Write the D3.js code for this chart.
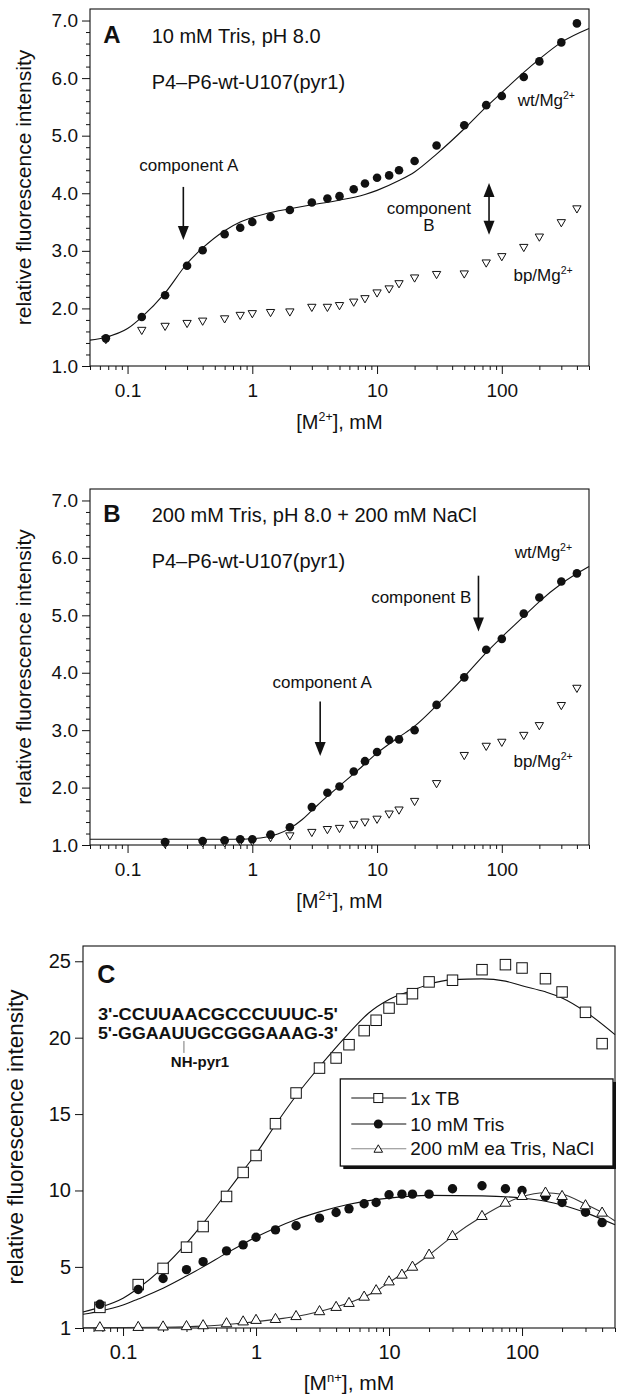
<!DOCTYPE html>
<html><head><meta charset="utf-8">
<script src="https://cdn.jsdelivr.net/npm/d3@7"></script>
<style>
body{margin:0;background:#fff}
svg{display:block}
text{font-family:"Liberation Sans",Arial,Helvetica,sans-serif;fill:#111}
</style>
</head><body>
<svg id="chart" width="621" height="1397"></svg>
<script>
// ---------------- DATA ----------------
// Panel A : 10 mM Tris
const concA = [0.067,0.13,0.2,0.3,0.4,0.6,0.8,1,1.4,2,3,4,5,6.5,8,10,12.5,15,20,30,50,75,100,150,200,300,400];
const wtA   = [1.48,1.85,2.23,2.74,3.01,3.29,3.40,3.50,3.59,3.71,3.84,3.91,3.95,4.07,4.17,4.27,4.31,4.40,4.56,4.83,5.18,5.53,5.69,6.02,6.29,6.62,6.95];
const bpA   = [1.47,1.63,1.70,1.75,1.79,1.83,1.89,1.92,1.94,1.95,2.03,2.03,2.06,2.12,2.18,2.28,2.35,2.44,2.54,2.60,2.61,2.80,2.91,3.07,3.25,3.50,3.74];
const fitAx = [0.05,0.067,0.1,0.13,0.2,0.3,0.4,0.6,0.8,1,1.5,2,3,5,8,10,15,20,30,50,75,100,150,200,300,500];
const fitAy = [1.45,1.50,1.65,1.85,2.27,2.78,3.05,3.35,3.50,3.58,3.68,3.73,3.80,3.88,3.98,4.05,4.22,4.37,4.68,5.12,5.50,5.75,6.10,6.33,6.62,6.86];

// Panel B : 200 mM Tris + 200 mM NaCl
const concB = [0.2,0.4,0.6,0.8,1,1.4,2,3,4,5,6.5,8,10,12.5,15,20,30,50,75,100,150,200,300,400];
const wtB   = [1.05,1.07,1.08,1.10,1.10,1.18,1.31,1.66,1.91,2.02,2.28,2.46,2.62,2.83,2.84,3.00,3.44,3.92,4.40,4.59,5.03,5.31,5.59,5.73];
const bpB   = [1.03,1.05,1.05,1.07,1.07,1.14,1.17,1.23,1.28,1.30,1.37,1.41,1.46,1.55,1.62,1.77,2.08,2.57,2.73,2.80,2.92,3.09,3.44,3.74];
const fitBx = [0.05,0.3,0.7,1,1.3,1.6,2,2.5,3,4,5,7,10,15,20,30,50,75,100,150,200,300,500];
const fitBy = [1.10,1.10,1.10,1.11,1.14,1.19,1.29,1.44,1.60,1.85,2.03,2.30,2.60,2.88,3.07,3.43,3.93,4.35,4.62,4.98,5.24,5.55,5.85];

// Panel C : duplex
const concC  = [0.067,0.13,0.2,0.3,0.4,0.6,0.8,1,1.4,2,3,4,5,6.5,8,10,12.5,15,20,30,50,75,100,150,200,300,400];
const tbC    = [2.35,3.84,4.90,6.29,7.64,9.61,11.18,12.29,14.37,16.38,18.01,18.67,19.54,20.46,21.14,21.94,22.53,22.88,23.65,23.76,24.45,24.78,24.56,23.86,22.99,21.66,19.61];
const trisC  = [2.55,3.52,4.24,4.82,5.34,6.05,6.44,6.94,7.42,7.69,8.19,8.56,8.80,9.13,9.21,9.72,9.76,9.76,9.76,10.11,10.31,10.11,10.00,9.61,9.21,8.58,7.90];
const naclC  = [1.02,1.04,1.07,1.09,1.15,1.28,1.40,1.50,1.56,1.75,2.07,2.35,2.61,3.02,3.44,4.02,4.46,4.98,5.77,6.99,8.30,9.17,9.61,9.83,9.61,9.00,8.52];
const fitTBx = [0.05,0.067,0.1,0.13,0.2,0.3,0.4,0.6,0.8,1,1.4,2,3,5,7,10,15,20,30,50,75,100,150,200,300,500];
const fitTBy = [2.05,2.35,2.95,3.60,4.95,6.55,7.85,9.85,11.30,12.40,14.30,16.20,18.10,20.30,21.60,22.50,23.10,23.50,23.80,23.85,23.70,23.40,23.00,22.60,21.70,20.20];
const fitTrx = [0.05,0.067,0.1,0.13,0.2,0.3,0.4,0.6,0.8,1,1.4,2,3,5,10,20,50,100,150,200,300,500];
const fitTry = [1.90,2.10,2.50,2.90,3.60,4.40,5.00,5.90,6.50,6.95,7.55,8.10,8.60,9.10,9.50,9.68,9.65,9.50,9.30,9.05,8.55,7.75];
const fitNax = [0.05,0.2,0.4,0.7,1,1.5,2,3,5,8,10,15,20,30,50,75,100,150,200,300,400,500];
const fitNay = [1.02,1.05,1.12,1.28,1.42,1.60,1.75,2.08,2.65,3.42,3.98,5.00,5.78,7.00,8.30,9.15,9.60,9.85,9.75,9.10,8.55,8.00];

const xMajor = [0.1,1,10,100];
const xMajorLabels = ["0.1","1","10","100"];
const yMajorAB = [1,2,3,4,5,6,7];
const yMajorABLabels = ["1.0","2.0","3.0","4.0","5.0","6.0","7.0"];
const yMajorC = [1,5,10,15,20,25];
const yMajorCLabels = ["1","5","10","15","20","25"];
const legendLabels = ["1x TB","10 mM Tris","200 mM ea Tris, NaCl"];
const seqTop = "3'-CCUUAACGCCCUUUC-5'";
const seqBot = "5'-GGAAUUGCGGGAAAG-3'";

// ---------------- DRAW ----------------
const svg = d3.select("#chart");
const ink = "#111";

function minorLog(){
  const m=[];
  [0.01,0.1,1,10,100].forEach(dec=>{ for(let k=2;k<=9;k++){ const v=k*dec; if(v>=0.05&&v<=500) m.push(v);} });
  return m;
}
function sup(sel, parts, size){
  sel.append("tspan").text(parts[0]);
  sel.append("tspan").attr("font-size",size*0.62).attr("dy",-size*0.38).text(parts[1]);
  sel.append("tspan").attr("font-size",size).attr("dy",size*0.38).text(parts[2]);
}

function makePanel(cfg){
  const x = d3.scaleLog().domain([0.05,500]).range([cfg.x0,cfg.x1]);
  const y = d3.scaleLinear().domain(cfg.ydom).range([cfg.yb,cfg.yt]);
  const g = svg.append("g");
  g.append("g").attr("transform",`translate(0,${cfg.yb})`)
    .call(d3.axisBottom(x).tickValues(minorLog()).tickFormat("").tickSize(4).tickSizeOuter(0))
    .call(a=>a.select(".domain").remove());
  const xa = g.append("g").attr("transform",`translate(0,${cfg.yb})`)
    .call(d3.axisBottom(x).tickValues(xMajor).tickFormat((d,i)=>xMajorLabels[i]).tickSize(8).tickPadding(cfg.xpad).tickSizeOuter(0));
  xa.select(".domain").remove();
  xa.selectAll("text").attr("font-size",cfg.tickFont).attr("font-family",'"Liberation Sans",Arial,sans-serif').attr("fill",ink);
  if(cfg.yMinor){
    g.append("g").attr("transform",`translate(${cfg.x0},0)`)
      .call(d3.axisLeft(y).tickValues(cfg.yMinor).tickFormat("").tickSize(4).tickSizeOuter(0))
      .call(a=>a.select(".domain").remove());
  }
  const ya = g.append("g").attr("transform",`translate(${cfg.x0},0)`)
    .call(d3.axisLeft(y).tickValues(cfg.yMajor).tickFormat((d,i)=>cfg.yLabels[i]).tickSize(8).tickPadding(4).tickSizeOuter(0));
  ya.select(".domain").remove();
  ya.selectAll("text").attr("font-size",cfg.tickFont).attr("font-family",'"Liberation Sans",Arial,sans-serif').attr("fill",ink);
  g.selectAll(".tick line").attr("stroke",ink);
  g.append("rect").attr("x",cfg.x0).attr("y",cfg.yt).attr("width",cfg.x1-cfg.x0).attr("height",cfg.yb-cfg.yt)
    .attr("fill","none").attr("stroke",ink).attr("stroke-width",1.1);
  const xt = g.append("text").attr("x",(cfg.x0+cfg.x1)/2).attr("y",cfg.xTitleY).attr("text-anchor","middle").attr("font-size",cfg.titleFont);
  sup(xt, cfg.xTitle, cfg.titleFont);
  g.append("text").attr("transform",`translate(${cfg.yTitleX},${(cfg.yt+cfg.yb)/2}) rotate(-90)`)
    .attr("text-anchor","middle").attr("dy","0.35em").attr("font-size",cfg.yTitleFont).text("relative fluorescence intensity");
  return {x,y,g};
}

function fitLine(p, xs, ys, color, w){
  const pts = xs.map((d,i)=>[d,ys[i]]);
  p.g.append("path").datum(pts)
    .attr("d", d3.line().x(d=>p.x(d[0])).y(d=>p.y(d[1])).curve(d3.curveMonotoneX))
    .attr("fill","none").attr("stroke",color).attr("stroke-width",w||1.1);
}
function dots(p, xs, ys, r){
  p.g.append("g").selectAll("circle").data(xs.map((d,i)=>[d,ys[i]])).join("circle")
    .attr("cx",d=>p.x(d[0])).attr("cy",d=>p.y(d[1])).attr("r",r).attr("fill",ink);
}
function triangles(p, xs, ys, size, down){
  const sym = d3.symbol().type(d3.symbolTriangle).size(size);
  p.g.append("g").selectAll("path").data(xs.map((d,i)=>[d,ys[i]])).join("path")
    .attr("d",sym).attr("transform",d=>`translate(${p.x(d[0])},${p.y(d[1])})${down?" rotate(180)":""}`)
    .attr("fill","#fff").attr("stroke",ink).attr("stroke-width",1);
}
function squares(p, xs, ys, s){
  p.g.append("g").selectAll("rect").data(xs.map((d,i)=>[d,ys[i]])).join("rect")
    .attr("x",d=>p.x(d[0])-s/2).attr("y",d=>p.y(d[1])-s/2).attr("width",s).attr("height",s)
    .attr("fill","#fff").attr("stroke",ink).attr("stroke-width",1);
}
function label(p, xv, yv, txt, size, opts={}){
  const t = p.g.append("text").attr("x",p.x(xv)).attr("y",p.y(yv)).attr("font-size",size)
    .attr("text-anchor",opts.anchor||"start");
  if(opts.bold) t.attr("font-weight","bold");
  if(Array.isArray(txt)) sup(t, txt, size); else t.text(txt);
  return t;
}
function arrow(p, xv, y1, y2, both){
  const X=p.x(xv), A=p.y(y1), B=p.y(y2), hl=14, hw=5.5;
  p.g.append("line").attr("x1",X).attr("x2",X).attr("y1",both?A+hl-2:A).attr("y2",B-hl+2).attr("stroke",ink).attr("stroke-width",1.6);
  p.g.append("path").attr("d",`M${X-hw},${B-hl} L${X+hw},${B-hl} L${X},${B} Z`).attr("fill",ink);
  if(both) p.g.append("path").attr("d",`M${X-hw},${A+hl} L${X+hw},${A+hl} L${X},${A} Z`).attr("fill",ink);
}

const minorAB = d3.range(1,7.01,0.2).map(v=>+v.toFixed(2)).filter(v=>Math.abs(v-Math.round(v))>0.01);

// ----- Panel A -----
const pA = makePanel({x0:90,x1:589,yt:9,yb:366,ydom:[1,7.2],yMajor:yMajorAB,yLabels:yMajorABLabels,yMinor:minorAB,
  tickFont:19,titleFont:20,yTitleFont:21,xpad:10,xTitleY:429,yTitleX:24,xTitle:["[M","2+","], mM"]});
fitLine(pA, fitAx, fitAy, ink);
triangles(pA, concA, bpA, 30, true);
dots(pA, concA, wtA, 4.3);
label(pA, 0.064, 6.61, "A", 24, {bold:true});
label(pA, 0.156, 6.61, "10 mM Tris, pH 8.0", 20);
label(pA, 0.156, 5.81, "P4\u2013P6-wt-U107(pyr1)", 20);
label(pA, 0.31, 4.39, "component A", 17, {anchor:"middle"});
arrow(pA, 0.28, 4.11, 3.19, false);
label(pA, 26, 3.64, "component", 17, {anchor:"middle"});
label(pA, 26, 3.35, "B", 17, {anchor:"middle"});
arrow(pA, 79, 4.18, 3.28, true);
label(pA, 134, 5.52, ["wt/Mg","2+",""], 17);
label(pA, 124, 2.48, ["bp/Mg","2+",""], 17);

// ----- Panel B -----
const pB = makePanel({x0:90,x1:589,yt:489,yb:845,ydom:[1,7.2],yMajor:yMajorAB,yLabels:yMajorABLabels,yMinor:minorAB,
  tickFont:19,titleFont:20,yTitleFont:21,xpad:10,xTitleY:908,yTitleX:24,xTitle:["[M","2+","], mM"]});
fitLine(pB, fitBx, fitBy, ink);
triangles(pB, concB, bpB, 30, true);
dots(pB, concB, wtB, 4.3);
label(pB, 0.064, 6.63, "B", 24, {bold:true});
label(pB, 0.156, 6.63, "200 mM Tris, pH 8.0 + 200 mM NaCl", 20);
label(pB, 0.156, 5.83, "P4\u2013P6-wt-U107(pyr1)", 20);
label(pB, 127, 6.0, ["wt/Mg","2+",""], 17);
label(pB, 57, 5.22, "component B", 17, {anchor:"end"});
arrow(pB, 65, 5.69, 4.72, false);
label(pB, 3.63, 3.73, "component A", 17, {anchor:"middle"});
arrow(pB, 3.5, 3.5, 2.55, false);
label(pB, 124, 2.36, ["bp/Mg","2+",""], 17);

// ----- Panel C -----
const pC = makePanel({x0:83,x1:615,yt:946,yb:1328,ydom:[1,26],yMajor:yMajorC,yLabels:yMajorCLabels,yMinor:null,
  tickFont:20,titleFont:21,yTitleFont:22.5,xpad:9,xTitleY:1390,yTitleX:15,xTitle:["[M","n+","], mM"]});
fitLine(pC, fitTBx, fitTBy, ink);
fitLine(pC, fitTrx, fitTry, ink);
fitLine(pC, fitNax, fitNay, "#333");
squares(pC, concC, tbC, 10.5);
dots(pC, concC, trisC, 4.7);
triangles(pC, concC, naclC, 48, false);
label(pC, 0.064, 23.58, "C", 25, {bold:true});
const sx0 = pC.x(0.0648), sx1 = pC.x(4.13);
[seqTop, seqBot].forEach((s,i)=>{
  pC.g.append("text").attr("x",sx0).attr("y",pC.y(i?19.91:21.16))
    .attr("font-family",'"Liberation Mono","DejaVu Sans Mono",monospace').attr("font-weight","bold").attr("font-size",16.5)
    .attr("textLength",sx1-sx0).attr("lengthAdjust","spacingAndGlyphs").text(s);
});
pC.g.append("line").attr("x1",pC.x(0.287)).attr("x2",pC.x(0.287)).attr("y1",pC.y(19.78)).attr("y2",pC.y(19.0))
  .attr("stroke","#555").attr("stroke-width",0.8);
label(pC, 0.379, 18.08, "NH-pyr1", 15, {anchor:"middle", bold:true});

const lx0 = pC.x(4.3), lx1 = pC.x(500)-2, ly0 = pC.y(17.3), ly1 = pC.y(11.6);
const lg = pC.g.append("g");
lg.append("rect").attr("x",lx0+3).attr("y",ly0+3).attr("width",lx1-lx0).attr("height",ly1-ly0).attr("fill",ink);
lg.append("rect").attr("x",lx0).attr("y",ly0).attr("width",lx1-lx0).attr("height",ly1-ly0).attr("fill","#fff").attr("stroke",ink).attr("stroke-width",1.3);
const rowY = [16.05,14.35,12.73].map(v=>pC.y(v));
const lineColors = [ink, ink, "#888"];
legendLabels.forEach((t,i)=>{
  const yy=rowY[i];
  lg.append("line").attr("x1",lx0+11).attr("x2",lx0+66).attr("y1",yy).attr("y2",yy).attr("stroke",lineColors[i]).attr("stroke-width",1.1);
  const mx = lx0+38;
  if(i===0) lg.append("rect").attr("x",mx-4.5).attr("y",yy-4.5).attr("width",9).attr("height",9).attr("fill","#fff").attr("stroke",ink);
  if(i===1) lg.append("circle").attr("cx",mx).attr("cy",yy).attr("r",4.5).attr("fill",ink);
  if(i===2) lg.append("path").attr("d",d3.symbol().type(d3.symbolTriangle).size(32)).attr("transform",`translate(${mx},${yy+1})`).attr("fill","#fff").attr("stroke",ink);
  lg.append("text").attr("x",lx0+70).attr("y",yy).attr("dy","0.35em").attr("font-size",19).text(t);
});
</script>
</body></html>
